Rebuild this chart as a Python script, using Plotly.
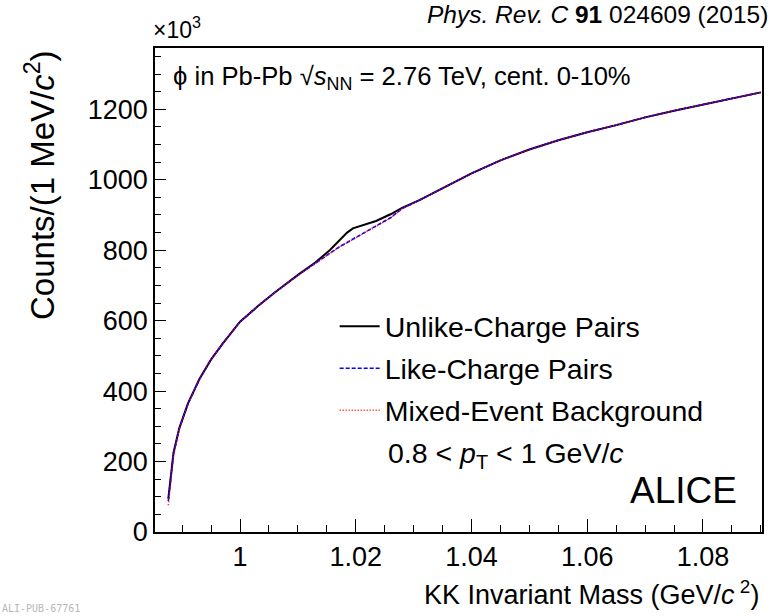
import plotly.graph_objects as go

# KK invariant mass (GeV/c^2)
mass = [0.9876, 0.9885, 0.9895, 0.991, 0.993, 0.995, 0.997, 1.000, 1.003, 1.006,
        1.010, 1.013, 1.0155, 1.017, 1.0185, 1.0195, 1.021, 1.0235, 1.026, 1.028,
        1.031, 1.035, 1.040, 1.045, 1.050, 1.055, 1.060, 1.065, 1.070, 1.075,
        1.080, 1.085, 1.090]

# Counts (x10^3) per 1 MeV/c^2
unlike = [95, 225, 295, 365, 435, 490, 535, 597, 640, 680,
          730, 765, 800, 825, 850, 862, 870, 883, 902, 920,
          942, 976, 1018, 1055, 1086, 1112, 1135, 1155, 1177, 1196,
          1214, 1231, 1248]
like = [88, 222, 294, 364, 434, 490, 535, 597, 640, 680,
        729, 763, 791, 808, 822, 831, 845, 869, 892, 918,
        942, 976, 1018, 1055, 1086, 1112, 1135, 1155, 1177, 1196,
        1214, 1231, 1248]
mixed = [76, 218, 292, 363, 434, 490, 535, 597, 640, 680,
         729, 763, 790, 807, 821, 830, 844, 868, 891, 918,
         942, 976, 1018, 1055, 1086, 1112, 1135, 1155, 1177, 1196,
         1214, 1231, 1248]

names = ["Unlike-Charge Pairs", "Like-Charge Pairs", "Mixed-Event Background"]

x_ticks = [1.0, 1.02, 1.04, 1.06, 1.08]
x_labels = ["1", "1.02", "1.04", "1.06", "1.08"]
y_ticks = [0, 200, 400, 600, 800, 1000, 1200]

FONT = "Liberation Sans, Arial, Helvetica, sans-serif"

fig = go.Figure()
fig.add_trace(go.Scatter(x=mass, y=unlike, mode="lines", name=names[0],
                         line=dict(color="black", width=2), legendgroup="a"))
fig.add_trace(go.Scatter(x=mass, y=like, mode="lines", name=names[1],
                         line=dict(color="#0000ff", width=1.6, dash="4px,2px"), legendgroup="b"))
fig.add_trace(go.Scatter(x=mass, y=mixed, mode="lines", name=names[2],
                         line=dict(color="#ff0000", width=1.6, dash="1px,2px"), legendgroup="c"))

fig.update_layout(
    width=776, height=616,
    margin=dict(l=155, r=14, t=48, b=84),
    paper_bgcolor="white", plot_bgcolor="white",
    font=dict(family=FONT, color="black"),
    showlegend=True,
    legend=dict(x=0.296, y=0.477, xanchor="left", yanchor="top",
                bgcolor="rgba(0,0,0,0)", font=dict(size=28.5),
                tracegroupgap=2, itemwidth=40),
    xaxis=dict(range=[0.9853, 1.0902], tickmode="array", tickvals=x_ticks, ticktext=x_labels,
               ticks="inside", ticklen=13, tickwidth=1, tickcolor="black",
               tickfont=dict(size=27), showgrid=False, zeroline=False,
               showline=True, linecolor="black", linewidth=1.5, mirror=True,
               minor=dict(dtick=0.005, tick0=1.0, ticks="inside", ticklen=7, tickcolor="black")),
    yaxis=dict(range=[0, 1374], tickmode="array", tickvals=y_ticks,
               ticks="inside", ticklen=11, tickwidth=1, tickcolor="black",
               tickfont=dict(size=27), showgrid=False, zeroline=False,
               showline=True, linecolor="black", linewidth=1.5, mirror=True,
               minor=dict(dtick=50, tick0=0, ticks="inside", ticklen=6, tickcolor="black")),
)

ann = [
    dict(x=1.0, y=1.0, xref="paper", yref="paper", yshift=49, xshift=8,
         text="<i>Phys. Rev. C</i> <b>91</b> 024609 (2015)", showarrow=False,
         xanchor="right", yanchor="top", font=dict(size=24.5)),
    dict(x=0, y=1, xref="paper", yref="paper", xshift=-4, yshift=3,
         text="×10<sup>3</sup>", showarrow=False, xanchor="left", yanchor="bottom",
         font=dict(size=23)),
    dict(x=0.027, y=0.938, xref="paper", yref="paper",
         text="ϕ in Pb-Pb √<i>s</i><sub>NN</sub> = 2.76 TeV, cent. 0-10%", showarrow=False,
         xanchor="left", yanchor="middle", font=dict(size=25.6)),
    dict(x=0.3806, y=0.159, xref="paper", yref="paper",
         text="0.8 &lt; <i>p</i><sub>T</sub> &lt; 1 GeV/<i>c</i>", showarrow=False,
         xanchor="left", yanchor="middle", font=dict(size=28.5)),
    dict(x=0.962, y=0.085, xref="paper", yref="paper",
         text="ALICE", showarrow=False, xanchor="right", yanchor="middle",
         font=dict(size=37)),
    dict(x=1.0, y=0, xref="paper", yref="paper", xshift=-1, yshift=-42,
         text="KK Invariant Mass (GeV/<i>c</i><sup> 2</sup>)", showarrow=False,
         xanchor="right", yanchor="top", font=dict(size=27)),
    dict(x=0, y=1, xref="paper", yref="paper", xshift=-115, yshift=0,
         text="Counts/(1 MeV/<i>c</i><sup>2</sup>)", showarrow=False, textangle=-90,
         xanchor="center", yanchor="top", font=dict(size=33)),
    dict(x=0, y=0, xref="paper", yref="paper", xshift=-155, yshift=-84,
         text="ALI-PUB-67761", showarrow=False, xanchor="left", yanchor="bottom",
         font=dict(size=10, color="#b8b8b8", family="DejaVu Sans Mono"),),
]
fig.update_layout(annotations=ann)

fig.write_html("out.html")
